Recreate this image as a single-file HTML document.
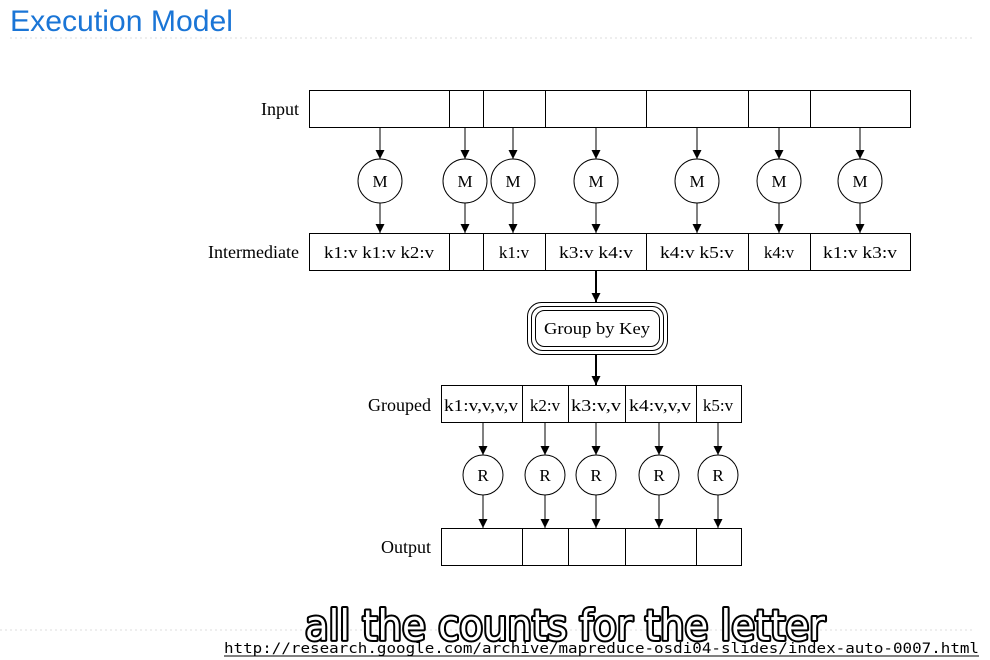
<!DOCTYPE html>
<html><head><meta charset="utf-8"><style>
html,body{margin:0;padding:0;background:#fff;width:990px;height:660px;overflow:hidden}
svg{display:block}
</style></head><body>
<svg width="990" height="660" viewBox="0 0 990 660" xmlns="http://www.w3.org/2000/svg">
<defs>
<marker id="a" viewBox="0 0 10 10" refX="10" refY="5" markerWidth="9" markerHeight="10" markerUnits="userSpaceOnUse" orient="auto"><path d="M0,0 L10,5 L0,10 z" fill="#000"/></marker>
</defs>
<text x="10" y="31" font-family="Liberation Sans, sans-serif" font-size="30" fill="#1a75d6" textLength="223" lengthAdjust="spacingAndGlyphs">Execution Model</text>
<line x1="10" y1="38" x2="975" y2="38" stroke="#ddd" stroke-dasharray="2,3"/>
<line x1="0" y1="630" x2="975" y2="630" stroke="#ddd" stroke-dasharray="2,3"/>
<g font-family="Liberation Serif, serif" font-size="18" fill="#000">
<text x="299" y="115" text-anchor="end">Input</text>
<text x="299" y="258" text-anchor="end">Intermediate</text>
<text x="431" y="411" text-anchor="end">Grouped</text>
<text x="431" y="553" text-anchor="end">Output</text>
</g>
<g fill="none" stroke="#000" stroke-width="1">
<rect x="309.5" y="90.5" width="601" height="37"/>
<path d="M449.5 90v38M483.5 90v38M545.5 90v38M646.5 90v38M748.5 90v38M810.5 90v38"/>
<rect x="309.5" y="233.5" width="601" height="37"/>
<path d="M449.5 233v38M483.5 233v38M545.5 233v38M646.5 233v38M748.5 233v38M810.5 233v38"/>
<rect x="441.5" y="385.5" width="300" height="37"/>
<path d="M522.5 385v38M568.5 385v38M625.5 385v38M696.5 385v38"/>
<rect x="441.5" y="528.5" width="300" height="37"/>
<path d="M522.5 528v38M568.5 528v38M625.5 528v38M696.5 528v38"/>
<rect x="527.5" y="302.5" width="140" height="52" rx="14"/>
<rect x="531.5" y="306.5" width="132" height="44" rx="11"/>
<rect x="535.5" y="310.5" width="124" height="36" rx="9"/>
</g>
<g font-family="Liberation Serif, serif" font-size="17" text-anchor="middle">
<text x="379" y="258" textLength="110" lengthAdjust="spacingAndGlyphs">k1:v k1:v k2:v</text>
<text x="514" y="258">k1:v</text>
<text x="596" y="258" textLength="74" lengthAdjust="spacingAndGlyphs">k3:v k4:v</text>
<text x="697" y="258" textLength="74" lengthAdjust="spacingAndGlyphs">k4:v k5:v</text>
<text x="779" y="258">k4:v</text>
<text x="860" y="258" textLength="74" lengthAdjust="spacingAndGlyphs">k1:v k3:v</text>
<text x="597" y="334" textLength="106" lengthAdjust="spacingAndGlyphs">Group by Key</text>
<text x="481" y="411" textLength="74" lengthAdjust="spacingAndGlyphs">k1:v,v,v,v</text>
<text x="545" y="411">k2:v</text>
<text x="596" y="411" textLength="50" lengthAdjust="spacingAndGlyphs">k3:v,v</text>
<text x="660" y="411" textLength="62" lengthAdjust="spacingAndGlyphs">k4:v,v,v</text>
<text x="718" y="411">k5:v</text>
</g>
<g stroke="#000" stroke-width="1" fill="#fff">
<circle cx="380" cy="181" r="22"/><circle cx="465" cy="181" r="22"/><circle cx="513" cy="181" r="22"/><circle cx="596" cy="181" r="22"/><circle cx="697" cy="181" r="22"/><circle cx="779" cy="181" r="22"/><circle cx="860" cy="181" r="22"/>
<circle cx="483" cy="475" r="20"/><circle cx="545" cy="475" r="20"/><circle cx="596" cy="475" r="20"/><circle cx="659" cy="475" r="20"/><circle cx="718" cy="475" r="20"/>
</g>
<g font-family="Liberation Serif, serif" font-size="17" text-anchor="middle" fill="#000">
<text x="380" y="187">M</text><text x="465" y="187">M</text><text x="513" y="187">M</text><text x="596" y="187">M</text><text x="697" y="187">M</text><text x="779" y="187">M</text><text x="860" y="187">M</text>
<text x="483" y="481">R</text><text x="545" y="481">R</text><text x="596" y="481">R</text><text x="659" y="481">R</text><text x="718" y="481">R</text>
</g>
<g stroke="#000" stroke-width="1" marker-end="url(#a)">
<line x1="380" y1="128" x2="380" y2="159"/><line x1="465" y1="128" x2="465" y2="159"/><line x1="513" y1="128" x2="513" y2="159"/><line x1="596" y1="128" x2="596" y2="159"/><line x1="697" y1="128" x2="697" y2="159"/><line x1="779" y1="128" x2="779" y2="159"/><line x1="860" y1="128" x2="860" y2="159"/>
<line x1="380" y1="203" x2="380" y2="233"/><line x1="465" y1="203" x2="465" y2="233"/><line x1="513" y1="203" x2="513" y2="233"/><line x1="596" y1="203" x2="596" y2="233"/><line x1="697" y1="203" x2="697" y2="233"/><line x1="779" y1="203" x2="779" y2="233"/><line x1="860" y1="203" x2="860" y2="233"/>
<line x1="596" y1="271" x2="596" y2="302" stroke-width="2"/><line x1="596" y1="355" x2="596" y2="385" stroke-width="2"/>
<line x1="483" y1="423" x2="483" y2="455"/><line x1="545" y1="423" x2="545" y2="455"/><line x1="596" y1="423" x2="596" y2="455"/><line x1="659" y1="423" x2="659" y2="455"/><line x1="718" y1="423" x2="718" y2="455"/>
<line x1="483" y1="495" x2="483" y2="528"/><line x1="545" y1="495" x2="545" y2="528"/><line x1="596" y1="495" x2="596" y2="528"/><line x1="659" y1="495" x2="659" y2="528"/><line x1="718" y1="495" x2="718" y2="528"/>
</g>
<text x="565" y="640" text-anchor="middle" font-family="DejaVu Sans Condensed, DejaVu Sans, sans-serif" font-size="42" fill="#fff" stroke="#000" stroke-width="4" stroke-linejoin="round" paint-order="stroke" textLength="520" lengthAdjust="spacingAndGlyphs">all the counts for the letter</text>
<text x="224" y="653" font-family="DejaVu Sans Mono, Liberation Mono, monospace" font-size="14.5" fill="#000" textLength="755" lengthAdjust="spacingAndGlyphs">http://research.google.com/archive/mapreduce-osdi04-slides/index-auto-0007.html</text>
<line x1="224" y1="656" x2="979" y2="656" stroke="#000" stroke-width="1"/>
</svg>
</body></html>
